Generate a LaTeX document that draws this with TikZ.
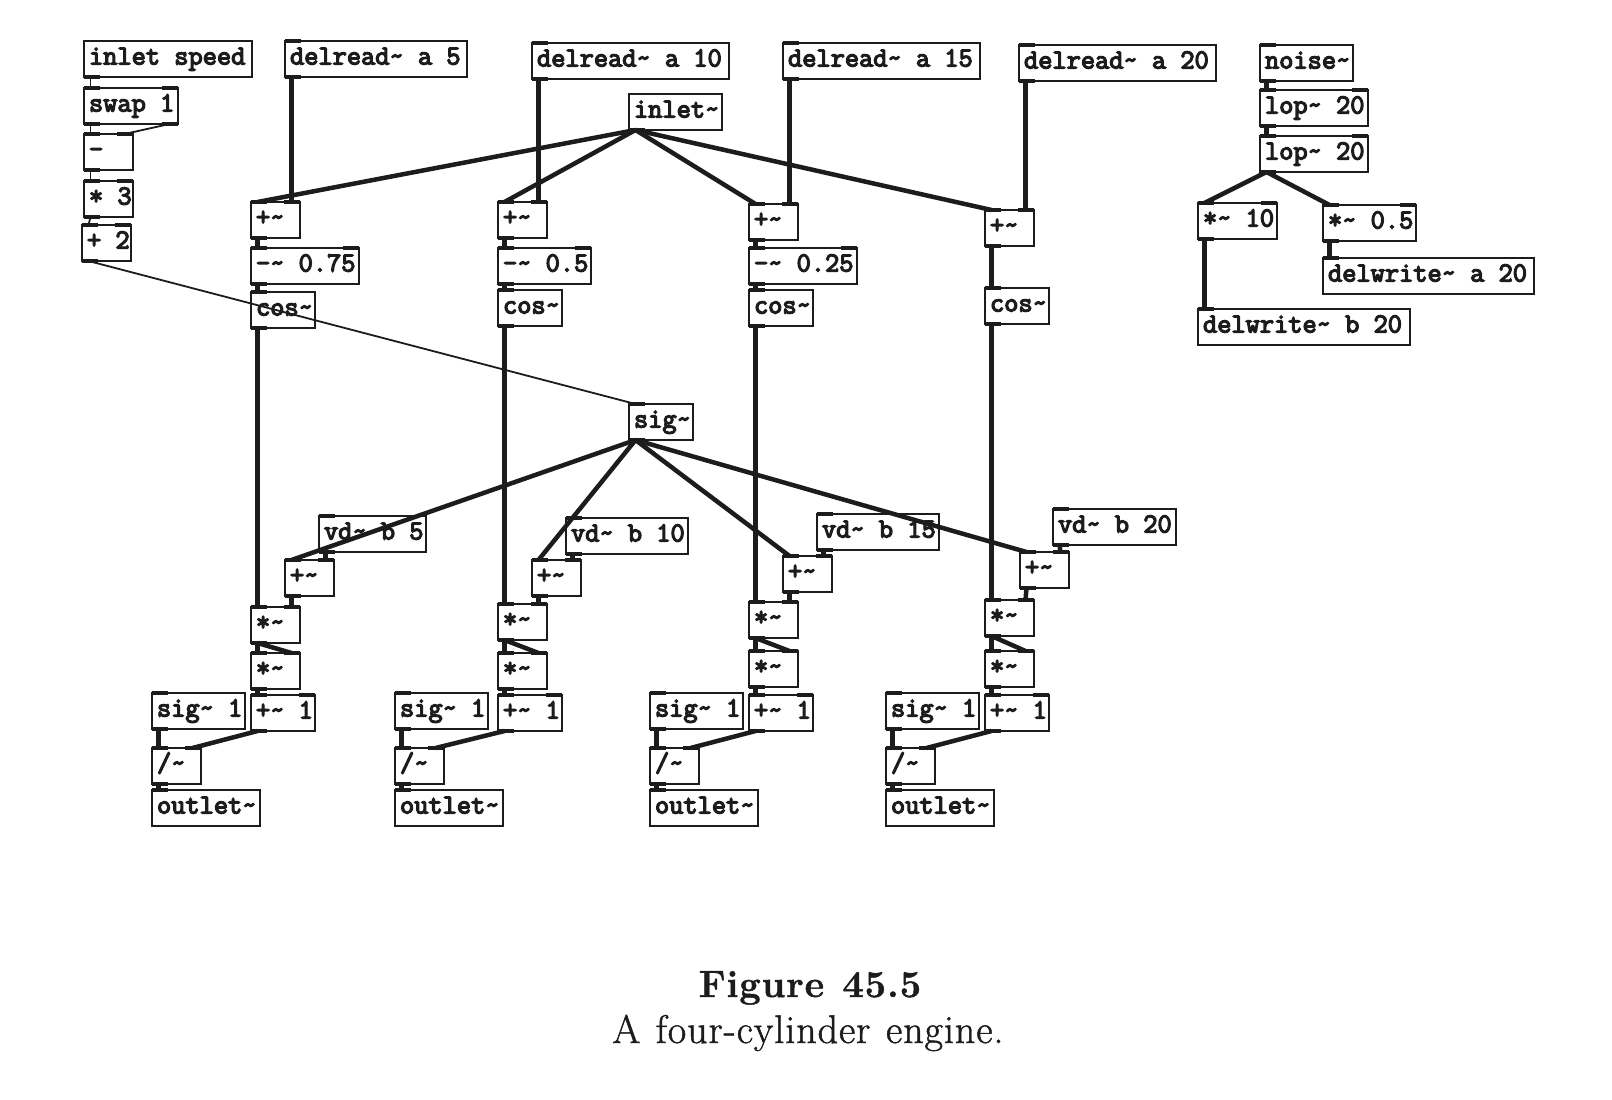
\documentclass[tikz,border=0pt]{standalone}
\usepackage{fontspec}
\usepackage{xcolor}
\usepackage{tikz}
\usetikzlibrary{positioning}
\newfontfamily\pdfont{Latin Modern Mono}[FakeBold=4.5]
\newfontfamily\capfont{Latin Modern Roman}[FakeBold=1.2, LetterSpace=2.4, WordSpace=1.2]
\definecolor{pdink}{gray}{0.11}
\tikzset{pd-port/.style={line width=4pt, color=pdink}}
\tikzset{pd-box/.style={draw=pdink, text=pdink, line width=1.7pt, anchor=north west, outer sep=0, inner xsep=5pt, inner ysep=0, text width=#1, align=flush left, text height=23.5pt, text depth=12.5pt, font=\fontsize{27.6}{30}\selectfont\pdfont}}
\tikzset{port-t/.style={append after command={(\tikzlastnode.north west) edge[pd-port] ([xshift=16pt]\tikzlastnode.north west)}}}
\tikzset{port-b/.style={append after command={(\tikzlastnode.south west) edge[pd-port] ([xshift=16pt]\tikzlastnode.south west)}}}
\tikzset{port-r/.style={append after command={(\tikzlastnode.north east) edge[pd-port] ([xshift=-16pt]\tikzlastnode.north east)}}}
\tikzset{port-s/.style={append after command={(\tikzlastnode.south east) edge[pd-port] ([xshift=-16pt]\tikzlastnode.south east)}}}
\tikzset{ctl-line/.style={line width=1.8pt, color=pdink}}
\tikzset{sig-line/.style={line width=4.5pt, color=pdink}}
\newcommand{\outof}[1]{([xshift=6.5pt]#1.south west)}
\newcommand{\outtwo}[1]{([xshift=-8.5pt]#1.south east)}
\newcommand{\into}[1]{([xshift=6.5pt]#1.north west)}
\newcommand{\intwo}[1]{([xshift=-8.5pt]#1.north east)}
\newcommand{\tl}{\textasciitilde{}}
\begin{document}
\begin{tikzpicture}[x=1pt, y=-1pt]
            \useasboundingbox (0,0) rectangle (1612,1100);

            % control chain
            \node[pd-box=158pt, port-b] (speed) at (84,41) {\mbox{inlet speed}};
            \node[pd-box=84pt, port-t, port-b, port-r, port-s] (swap) at (84,88) {\mbox{swap 1}};
            \node[pd-box=39pt, port-t, port-b, port-r] (minus) at (84,134) {-};
            \node[pd-box=39pt, port-t, port-b, port-r] (times) at (84,181) {\mbox{* 3}};
            \node[pd-box=39pt, port-t, port-b, port-r] (plus) at (82,225) {\mbox{+ 2}};

            % delay reads
            \node[pd-box=172pt, port-t, port-b] (read1) at (285,41) {\mbox{delread\tl{} a 5}};
            \node[pd-box=187pt, port-t, port-b] (read2) at (532,43) {\mbox{delread\tl{} a 10}};
            \node[pd-box=187pt, port-t, port-b] (read3) at (783,43) {\mbox{delread\tl{} a 15}};
            \node[pd-box=187pt, port-t, port-b] (read4) at (1019,45) {\mbox{delread\tl{} a 20}};
            \node[pd-box=83pt, port-b] (phase) at (629,94) {inlet\tl};

            \node[pd-box=39pt, port-t, port-b, port-r] (add1) at (251,202) {+\tl};
            \node[pd-box=39pt, port-t, port-b, port-r] (add2) at (498,202) {+\tl};
            \node[pd-box=39pt, port-t, port-b, port-r] (add3) at (749,204) {+\tl};
            \node[pd-box=39pt, port-t, port-b, port-r] (add4) at (985,210) {+\tl};

            \node[pd-box=98pt, port-t, port-b, port-r] (sub1) at (251,248) {\mbox{-\tl{} 0.75}};
            \node[pd-box=83pt, port-t, port-b, port-r] (sub2) at (498,248) {\mbox{-\tl{} 0.5}};
            \node[pd-box=98pt, port-t, port-b, port-r] (sub3) at (749,248) {\mbox{-\tl{} 0.25}};

            \node[pd-box=54pt, port-t, port-b] (cos1) at (251,292) {cos\tl};
            \node[pd-box=54pt, port-t, port-b] (cos2) at (498,290) {cos\tl};
            \node[pd-box=54pt, port-t, port-b] (cos3) at (749,290) {cos\tl};
            \node[pd-box=54pt, port-t, port-b] (cos4) at (985,288) {cos\tl};

            % noise source
            \node[pd-box=83pt, port-t, port-b] (noise) at (1260,45) {noise\tl};
            \node[pd-box=98pt, port-t, port-b, port-r] (lop1) at (1260,90) {\mbox{lop\tl{} 20}};
            \node[pd-box=98pt, port-t, port-b, port-r] (lop2) at (1260,136) {\mbox{lop\tl{} 20}};
            \node[pd-box=69pt, port-t, port-b, port-r] (gain1) at (1198,203) {\mbox{*\tl{} 10}};
            \node[pd-box=83pt, port-t, port-b, port-r] (gain2) at (1323,205) {\mbox{*\tl{} 0.5}};
            \node[pd-box=201pt, port-t] (write1) at (1323,258) {\mbox{delwrite\tl{} a 20}};
            \node[pd-box=202pt, port-t] (write2) at (1198,309) {\mbox{delwrite\tl{} b 20}};

            % delay taps
            \node[pd-box=54pt, port-t, port-b] (speedsig) at (629,404) {sig\tl};

            \node[pd-box=97pt, port-t, port-b] (tap1) at (319,516) {\mbox{vd\tl{} b 5}};
            \node[pd-box=112pt, port-t, port-b] (tap2) at (566,518) {\mbox{vd\tl{} b 10}};
            \node[pd-box=112pt, port-t, port-b] (tap3) at (817,514) {\mbox{vd\tl{} b 15}};
            \node[pd-box=113pt, port-t, port-b] (tap4) at (1053,509) {\mbox{vd\tl{} b 20}};

            \node[pd-box=39pt, port-t, port-b, port-r] (offs1) at (285,560) {+\tl};
            \node[pd-box=39pt, port-t, port-b, port-r] (offs2) at (532,560) {+\tl};
            \node[pd-box=39pt, port-t, port-b, port-r] (offs3) at (783,556) {+\tl};
            \node[pd-box=39pt, port-t, port-b, port-r] (offs4) at (1020,552) {+\tl};

            \node[pd-box=39pt, port-t, port-b, port-r] (mula1) at (251,607) {*\tl};
            \node[pd-box=39pt, port-t, port-b, port-r] (mula2) at (498,604) {*\tl};
            \node[pd-box=39pt, port-t, port-b, port-r] (mula3) at (749,602) {*\tl};
            \node[pd-box=39pt, port-t, port-b, port-r] (mula4) at (985,600) {*\tl};

            \node[pd-box=39pt, port-t, port-b, port-r] (mulb1) at (251,653) {*\tl};
            \node[pd-box=39pt, port-t, port-b, port-r] (mulb2) at (498,653) {*\tl};
            \node[pd-box=39pt, port-t, port-b, port-r] (mulb3) at (749,651) {*\tl};
            \node[pd-box=39pt, port-t, port-b, port-r] (mulb4) at (985,651) {*\tl};

            \node[pd-box=54pt, port-t, port-b, port-r] (sum1) at (251,695) {\mbox{+\tl{} 1}};
            \node[pd-box=54pt, port-t, port-b, port-r] (sum2) at (498,695) {\mbox{+\tl{} 1}};
            \node[pd-box=54pt, port-t, port-b, port-r] (sum3) at (749,695) {\mbox{+\tl{} 1}};
            \node[pd-box=54pt, port-t, port-b, port-r] (sum4) at (985,695) {\mbox{+\tl{} 1}};

            \node[pd-box=83pt, port-t, port-b] (one1) at (152,693) {\mbox{sig\tl{} 1}};
            \node[pd-box=83pt, port-t, port-b] (one2) at (395,693) {\mbox{sig\tl{} 1}};
            \node[pd-box=83pt, port-t, port-b] (one3) at (650,693) {\mbox{sig\tl{} 1}};
            \node[pd-box=83pt, port-t, port-b] (one4) at (886,693) {\mbox{sig\tl{} 1}};

            \node[pd-box=39pt, port-t, port-b, port-r] (div1) at (152,748) {/\tl};
            \node[pd-box=39pt, port-t, port-b, port-r] (div2) at (395,748) {/\tl};
            \node[pd-box=39pt, port-t, port-b, port-r] (div3) at (650,748) {/\tl};
            \node[pd-box=39pt, port-t, port-b, port-r] (div4) at (886,748) {/\tl};

            \node[pd-box=98pt, port-t] (out1) at (152,790) {outlet\tl};
            \node[pd-box=98pt, port-t] (out2) at (395,790) {outlet\tl};
            \node[pd-box=98pt, port-t] (out3) at (650,790) {outlet\tl};
            \node[pd-box=98pt, port-t] (out4) at (886,790) {outlet\tl};

            \node[anchor=base, text=pdink, font=\fontsize{38}{42}\selectfont\capfont\bfseries] (figno) at (810,997) {Figure 45.5};
            \node[anchor=base, text=pdink, font=\fontsize{40}{44}\selectfont\capfont] (figtext) at (808,1043) {A four-cylinder engine.};

            \draw[ctl-line] \outof{speed} -- \into{swap};
            \draw[ctl-line] \outof{swap} -- \into{minus};
            \draw[ctl-line] \outtwo{swap} -- \intwo{minus};
            \draw[ctl-line] \outof{minus} -- \into{times};
            \draw[ctl-line] \outof{times} -- \into{plus};
            \draw[ctl-line] \outof{plus} -- \into{speedsig};

            \draw[sig-line] \outof{read1} -- \intwo{add1};
            \draw[sig-line] \outof{read2} -- \intwo{add2};
            \draw[sig-line] \outof{read3} -- \intwo{add3};
            \draw[sig-line] \outof{read4} -- \intwo{add4};

            \draw[sig-line] \outof{phase} -- \into{add1};
            \draw[sig-line] \outof{phase} -- \into{add2};
            \draw[sig-line] \outof{phase} -- \into{add3};
            \draw[sig-line] \outof{phase} -- \into{add4};

            \draw[sig-line] \outof{add1} -- \into{sub1};
            \draw[sig-line] \outof{add2} -- \into{sub2};
            \draw[sig-line] \outof{add3} -- \into{sub3};
            \draw[sig-line] \outof{add4} -- \into{cos4};

            \draw[sig-line] \outof{sub1} -- \into{cos1};
            \draw[sig-line] \outof{sub2} -- \into{cos2};
            \draw[sig-line] \outof{sub3} -- \into{cos3};

            \draw[sig-line] \outof{cos1} -- \into{mula1};
            \draw[sig-line] \outof{cos2} -- \into{mula2};
            \draw[sig-line] \outof{cos3} -- \into{mula3};
            \draw[sig-line] \outof{cos4} -- \into{mula4};

            \draw[sig-line] \outof{noise} -- \into{lop1};
            \draw[sig-line] \outof{lop1} -- \into{lop2};
            \draw[sig-line] \outof{lop2} -- \into{gain1};
            \draw[sig-line] \outof{lop2} -- \into{gain2};
            \draw[sig-line] \outof{gain1} -- \into{write2};
            \draw[sig-line] \outof{gain2} -- \into{write1};

            \draw[sig-line] \outof{speedsig} -- \into{offs1};
            \draw[sig-line] \outof{speedsig} -- \into{offs2};
            \draw[sig-line] \outof{speedsig} -- \into{offs3};
            \draw[sig-line] \outof{speedsig} -- \into{offs4};

            \draw[sig-line] \outof{tap1} -- \intwo{offs1};
            \draw[sig-line] \outof{tap2} -- \intwo{offs2};
            \draw[sig-line] \outof{tap3} -- \intwo{offs3};
            \draw[sig-line] \outof{tap4} -- \intwo{offs4};

            \draw[sig-line] \outof{offs1} -- \intwo{mula1};
            \draw[sig-line] \outof{offs2} -- \intwo{mula2};
            \draw[sig-line] \outof{offs3} -- \intwo{mula3};
            \draw[sig-line] \outof{offs4} -- \intwo{mula4};

            \draw[sig-line] \outof{mula1} -- \into{mulb1};
            \draw[sig-line] \outof{mula2} -- \into{mulb2};
            \draw[sig-line] \outof{mula3} -- \into{mulb3};
            \draw[sig-line] \outof{mula4} -- \into{mulb4};

            \draw[sig-line] \outof{mula1} -- \intwo{mulb1};
            \draw[sig-line] \outof{mula2} -- \intwo{mulb2};
            \draw[sig-line] \outof{mula3} -- \intwo{mulb3};
            \draw[sig-line] \outof{mula4} -- \intwo{mulb4};

            \draw[sig-line] \outof{mulb1} -- \into{sum1};
            \draw[sig-line] \outof{mulb2} -- \into{sum2};
            \draw[sig-line] \outof{mulb3} -- \into{sum3};
            \draw[sig-line] \outof{mulb4} -- \into{sum4};

            \draw[sig-line] \outof{one1} -- \into{div1};
            \draw[sig-line] \outof{one2} -- \into{div2};
            \draw[sig-line] \outof{one3} -- \into{div3};
            \draw[sig-line] \outof{one4} -- \into{div4};

            \draw[sig-line] \outof{sum1} -- \intwo{div1};
            \draw[sig-line] \outof{sum2} -- \intwo{div2};
            \draw[sig-line] \outof{sum3} -- \intwo{div3};
            \draw[sig-line] \outof{sum4} -- \intwo{div4};

            \draw[sig-line] \outof{div1} -- \into{out1};
            \draw[sig-line] \outof{div2} -- \into{out2};
            \draw[sig-line] \outof{div3} -- \into{out3};
            \draw[sig-line] \outof{div4} -- \into{out4};
        \end{tikzpicture}
\end{document}
